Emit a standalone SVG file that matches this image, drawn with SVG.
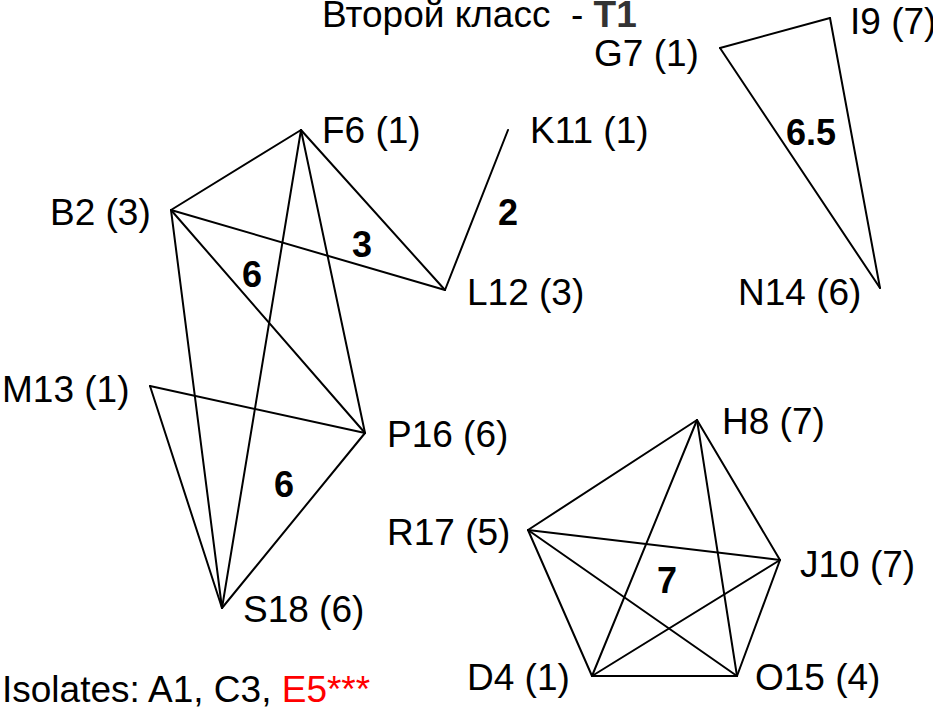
<svg xmlns="http://www.w3.org/2000/svg" width="933" height="707" viewBox="0 0 933 707">
<style>
.lbl{font-family:"Liberation Sans",Arial,sans-serif;font-size:37px;fill:#000}
.w{font-family:"Liberation Sans",Arial,sans-serif;font-size:36px;font-weight:bold;fill:#000}
.e line{stroke:#000;stroke-width:2;stroke-linecap:round}
</style>
<rect width="933" height="707" fill="#fff"/>
<text class="lbl" x="322" y="27" font-size="33" xml:space="preserve" style="white-space:pre">Второй класс  - <tspan font-weight="bold" fill="#333">T1</tspan></text>
<g id="connectors" class="e">
<line x1="301" y1="130" x2="171" y2="210"/>
<line x1="301" y1="130" x2="445" y2="290"/>
<line x1="301" y1="130" x2="365" y2="433"/>
<line x1="301" y1="130" x2="222" y2="608"/>
<line x1="171" y1="210" x2="445" y2="290"/>
<line x1="171" y1="210" x2="365" y2="433"/>
<line x1="171" y1="210" x2="222" y2="608"/>
<line x1="445" y1="290" x2="508" y2="130"/>
<line x1="150" y1="386" x2="365" y2="433"/>
<line x1="150" y1="386" x2="222" y2="608"/>
<line x1="365" y1="433" x2="222" y2="608"/>
<line x1="720" y1="48" x2="830" y2="18"/>
<line x1="720" y1="48" x2="880" y2="288"/>
<line x1="830" y1="18" x2="880" y2="288"/>
<line x1="697" y1="420" x2="528" y2="530"/>
<line x1="697" y1="420" x2="780" y2="560"/>
<line x1="697" y1="420" x2="592" y2="676"/>
<line x1="697" y1="420" x2="737" y2="676"/>
<line x1="528" y1="530" x2="780" y2="560"/>
<line x1="528" y1="530" x2="592" y2="676"/>
<line x1="528" y1="530" x2="737" y2="676"/>
<line x1="780" y1="560" x2="592" y2="676"/>
<line x1="780" y1="560" x2="737" y2="676"/>
<line x1="592" y1="676" x2="737" y2="676"/>
</g>
<g id="edge-weights">
<text class="w" x="242" y="287">6</text>
<text class="w" x="352" y="257">3</text>
<text class="w" x="498" y="225">2</text>
<text class="w" x="786" y="145">6.5</text>
<text class="w" x="274" y="497">6</text>
<text class="w" x="657" y="593">7</text>
</g>
<g id="F6"><text class="lbl" x="322" y="143">F6 (1)</text></g>
<g id="K11"><text class="lbl" x="530" y="143">K11 (1)</text></g>
<g id="B2"><text class="lbl" x="50" y="225">B2 (3)</text></g>
<g id="L12"><text class="lbl" x="467" y="305">L12 (3)</text></g>
<g id="G7"><text class="lbl" x="594" y="66">G7 (1)</text></g>
<g id="I9"><text class="lbl" x="850" y="34">I9 (7)</text></g>
<g id="N14"><text class="lbl" x="738" y="305">N14 (6)</text></g>
<g id="M13"><text class="lbl" x="2" y="402">M13 (1)</text></g>
<g id="P16"><text class="lbl" x="387" y="447">P16 (6)</text></g>
<g id="S18"><text class="lbl" x="243" y="622">S18 (6)</text></g>
<g id="H8"><text class="lbl" x="722" y="434">H8 (7)</text></g>
<g id="R17"><text class="lbl" x="387" y="545">R17 (5)</text></g>
<g id="J10"><text class="lbl" x="800" y="577">J10 (7)</text></g>
<g id="D4"><text class="lbl" x="467" y="690">D4 (1)</text></g>
<g id="O15"><text class="lbl" x="755" y="690">O15 (4)</text></g>
<g id="isolates"><text class="lbl" x="2" y="702">Isolates: A1, C3, <tspan fill="#f00">E5***</tspan></text></g>
</svg>
